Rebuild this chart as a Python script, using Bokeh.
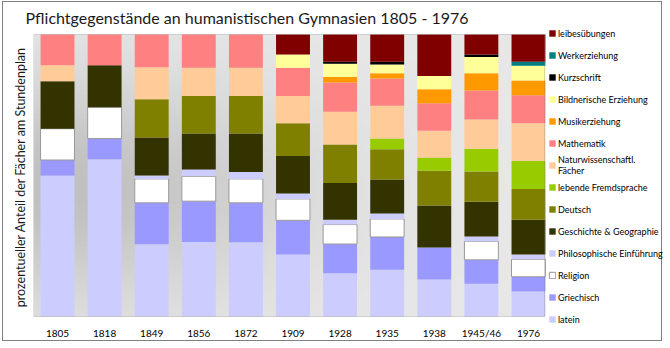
import numpy as np
from bokeh.plotting import figure
from bokeh.models import Range1d, FixedTicker, Legend, LegendItem, ColumnDataSource, BoxAnnotation
from bokeh.embed import file_html
from bokeh.resources import INLINE

# ---------------- data (percent of timetable) ----------------
years = ["1805", "1818", "1849", "1856", "1872", "1909", "1928", "1935", "1938", "1945/46", "1976"]

latein       = [50.0, 55.8, 25.6, 26.4, 26.3, 22.0, 15.3, 16.6, 13.1, 11.6, 8.9]
griechisch   = [5.5, 7.3, 14.7, 14.5, 14.0, 12.1, 10.4, 11.6, 11.4, 8.5, 5.2]
religion     = [11.1, 11.1, 8.5, 8.8, 8.5, 7.6, 6.9, 6.4, 0.0, 6.6, 6.2]
philosophie  = [0.0, 0.0, 1.2, 2.4, 2.4, 1.9, 1.7, 1.9, 0.0, 1.7, 1.7]
geschichte   = [16.8, 14.9, 13.5, 12.8, 13.7, 13.3, 13.0, 12.1, 14.9, 12.3, 12.3]
deutsch      = [0.0, 0.0, 13.5, 13.3, 13.3, 11.6, 13.7, 10.7, 12.3, 10.7, 10.9]
fremdsprache = [0.0, 0.0, 0.0, 0.0, 0.0, 0.0, 0.0, 3.8, 4.7, 8.1, 10.0]
naturwiss    = [5.7, 0.0, 11.4, 10.0, 10.0, 9.7, 11.6, 11.6, 9.5, 10.4, 13.3]
mathematik   = [10.9, 10.9, 11.6, 11.8, 11.8, 10.0, 10.4, 9.7, 9.7, 10.2, 10.0]
musik        = [0.0, 0.0, 0.0, 0.0, 0.0, 0.0, 1.9, 1.9, 5.0, 6.2, 5.2]
bildnerisch  = [0.0, 0.0, 0.0, 0.0, 0.0, 4.7, 4.7, 3.1, 4.7, 5.7, 5.2]
kurzschrift  = [0.0, 0.0, 0.0, 0.0, 0.0, 0.0, 0.7, 0.9, 0.0, 0.9, 0.0]
werkerz      = [0.0, 0.0, 0.0, 0.0, 0.0, 0.0, 0.0, 0.0, 0.0, 0.0, 1.4]
leibes       = [0.0, 0.0, 0.0, 0.0, 0.0, 7.1, 9.7, 9.7, 14.7, 7.1, 9.7]

# bottom -> top
subjects = ["latein", "Griechisch", "Religion", "Philosophische Einführung",
            "Geschichte & Geographie", "Deutsch", "lebende Fremdsprache",
            "Naturwissenschaftl.\nFächer", "Mathematik", "Musikerziehung",
            "Bildnerische Erziehung", "Kurzschrift", "Werkerziehung", "leibesübungen"]
series = [latein, griechisch, religion, philosophie, geschichte, deutsch, fremdsprache,
          naturwiss, mathematik, musik, bildnerisch, kurzschrift, werkerz, leibes]
colors = ["#CCCCFF", "#9999FF", "#FFFFFF", "#CCCCFF", "#333300", "#808000", "#99CC00",
          "#FFCC99", "#FF8080", "#FF9900", "#FFFF99", "#000000", "#008080", "#800000"]

keys = ["s%d" % i for i in range(len(series))]
data = {"x": list(range(len(years)))}
for k, s in zip(keys, series):
    data[k] = s
data["rel_alpha"] = [1.0 if v > 0 else 0.0 for v in religion]
src = ColumnDataSource(data)

FONT = "Lato"

# plot-area extent (data units) and the wider frame that also holds the legend
X0, X1 = -0.51, 10.34
p = figure(width=660, height=340,
           x_range=Range1d(X0, 12.867), y_range=Range1d(-3.19, 102.13),
           output_backend="svg", toolbar_location=None,
           min_border_left=30, min_border_right=0, min_border_top=26, min_border_bottom=17,
           title="Pflichtgegenstände an humanistischen Gymnasien 1805 - 1976",
           styles={"border": "1px solid #808080", "margin": "1px 0 0 2px"})

# background gradient of the plot area
ny, nx = 60, 90
u = np.linspace(0, 1, nx)[None, :]
w = np.linspace(1, 0, ny)[:, None]
v = 232 - 40 * np.exp(-((u - 0.05) / 0.45) ** 2 - ((w - 0.55) / 0.4) ** 2)
img = np.empty((ny, nx), dtype=np.uint32)
view = img.view(dtype=np.uint8).reshape((ny, nx, 4))
view[:, :, 0] = v.astype(np.uint8)
view[:, :, 1] = v.astype(np.uint8)
view[:, :, 2] = v.astype(np.uint8)
view[:, :, 3] = 255
p.image_rgba(image=[img], x=X0, y=0, dw=X1 - X0, dh=100)

line_colors = [None] * len(keys)
line_colors[2] = "#999999"
line_alphas = [1.0] * len(keys)
line_alphas[2] = "rel_alpha"
rs = p.vbar_stack(keys, x="x", width=0.72, source=src,
                  fill_color=colors, line_color=line_colors, line_alpha=line_alphas,
                  line_width=1)

p.add_layout(BoxAnnotation(left=X0, right=X1, bottom=0, top=100,
                           fill_alpha=0, line_color="#808080", line_width=1))

items = [LegendItem(label=lab, renderers=[r]) for lab, r in zip(subjects, rs)][::-1]
legend = Legend(items=items, location=(515, -5), orientation="vertical",
                glyph_width=8, glyph_height=8, label_height=22, spacing=0,
                padding=0, margin=0, label_standoff=2,
                label_text_font=FONT, label_text_font_size="9px",
                label_text_color="#000000",
                border_line_color=None, background_fill_alpha=0)
p.add_layout(legend, "center")

# title
p.title.text_font = FONT
p.title.text_font_size = "16px"
p.title.text_font_style = "normal"
p.title.text_color = "#1a1a1a"
p.title.offset = -8
p.title.standoff = 4

# axes
p.xaxis.ticker = FixedTicker(ticks=list(range(len(years))))
p.xaxis.major_label_overrides = {i: y for i, y in enumerate(years)}
p.xaxis.axis_line_color = None
p.xaxis.major_tick_line_color = None
p.xaxis.minor_tick_line_color = None
p.xaxis.major_tick_out = 0
p.xaxis.major_label_standoff = 1
p.xaxis.major_label_text_font = FONT
p.xaxis.major_label_text_font_size = "10px"
p.xaxis.major_label_text_color = "#000000"

p.yaxis.ticker = FixedTicker(ticks=[])
p.yaxis.axis_line_color = None
p.yaxis.major_tick_line_color = None
p.yaxis.minor_tick_line_color = None
p.yaxis.axis_label = "prozentueller Anteil der Fächer am Stundenplan"
p.yaxis.axis_label_text_font = FONT
p.yaxis.axis_label_text_font_size = "12.5px"
p.yaxis.axis_label_text_font_style = "normal"
p.yaxis.axis_label_text_color = "#1a1a1a"
p.yaxis.axis_label_standoff = 6

p.xgrid.visible = False
p.ygrid.visible = False
p.outline_line_color = None
p.background_fill_color = "#ffffff"
p.border_fill_color = "#ffffff"

open("out.html", "w").write(file_html(p, INLINE))
